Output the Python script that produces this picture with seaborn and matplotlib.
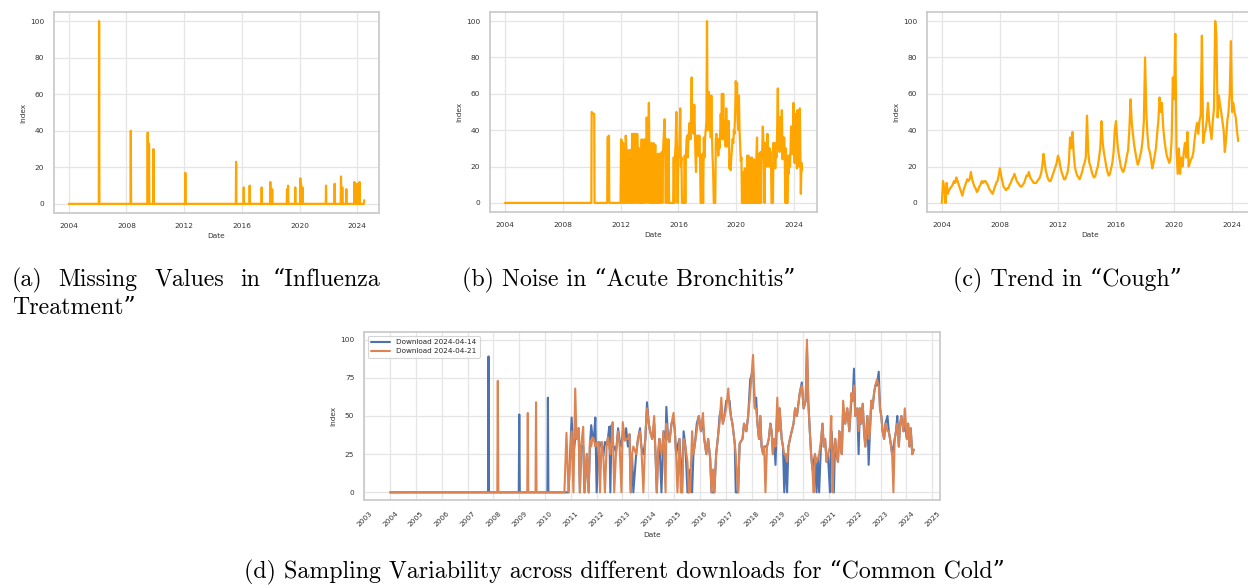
import numpy as np
import pandas as pd
import matplotlib
matplotlib.use("Agg")
import matplotlib.pyplot as plt
import matplotlib.dates as mdates
from matplotlib.ticker import MultipleLocator
import seaborn as sns

# ---------------- data ----------------
# (a) Missing values in "Influenza Treatment": zero baseline with isolated weekly spikes
flu_start = 2004.0
flu_spike_years = [2006.10, 2008.30, 2009.47, 2009.56, 2009.87, 2012.08, 2015.60, 2016.13,
                   2016.54, 2017.37, 2017.97, 2018.10, 2019.13, 2019.20, 2019.70, 2020.05,
                   2020.10, 2020.20, 2021.83, 2022.43, 2022.87, 2022.96, 2023.24, 2023.80,
                   2024.00, 2024.07, 2024.16]
flu_spike_values = [100, 40, 39, 33, 30, 17, 23, 9,
                    10, 9, 12, 8, 8, 10, 9, 14,
                    11, 9, 10, 11, 15, 9, 8, 12,
                    11, 9, 12]
flu_end_year = 2024.48
flu_end_value = 2

# (b) Noise in "Acute Bronchitis"
bron_early_years = [2004.00, 2009.98, 2010.00, 2010.10, 2010.18, 2010.20,
                    2011.08, 2011.10, 2011.20, 2011.22]
bron_early_values = [0, 0, 50, 49, 49, 0, 0, 36, 37, 0]
bron_years = [
    2012.00, 2012.04, 2012.09, 2012.13, 2012.18, 2012.22, 2012.27, 2012.31, 2012.36, 2012.40, 2012.44, 2012.49,
    2012.53, 2012.58, 2012.62, 2012.66, 2012.71, 2012.75, 2012.80, 2012.84, 2012.88, 2012.93, 2012.97,
    2013.02, 2013.06, 2013.10, 2013.15, 2013.19, 2013.23, 2013.28, 2013.32, 2013.37, 2013.41, 2013.46, 2013.50,
    2013.55, 2013.59, 2013.64, 2013.68, 2013.72, 2013.77, 2013.81, 2013.85, 2013.89, 2013.96,
    2014.00, 2014.04, 2014.09, 2014.13, 2014.18, 2014.22, 2014.27, 2014.31, 2014.36, 2014.40, 2014.45, 2014.50,
    2014.54, 2014.59, 2014.63, 2014.68, 2014.72, 2014.76, 2014.81, 2014.85, 2014.89, 2014.94,
    2015.00, 2015.05, 2015.09, 2015.13, 2015.18, 2015.22, 2015.27, 2015.31, 2015.36, 2015.45, 2015.64, 2015.68,
    2015.72, 2015.76, 2015.81, 2015.86, 2015.90, 2015.95,
    2016.00, 2016.04, 2016.08, 2016.13, 2016.17, 2016.21, 2016.25, 2016.40, 2016.44, 2016.48, 2016.52, 2016.57,
    2016.61, 2016.65, 2016.70, 2016.74, 2016.78, 2016.83, 2016.87, 2016.92, 2016.96,
    2017.01, 2017.05, 2017.10, 2017.14, 2017.18, 2017.22, 2017.27, 2017.31, 2017.36, 2017.40, 2017.45, 2017.49,
    2017.54, 2017.62, 2017.67, 2017.71, 2017.76, 2017.80, 2017.85, 2017.89, 2017.94, 2017.98,
    2018.02, 2018.06, 2018.11, 2018.15, 2018.19, 2018.24, 2018.28, 2018.32, 2018.36, 2018.40, 2018.45, 2018.55,
    2018.59, 2018.63, 2018.67, 2018.72, 2018.76, 2018.80, 2018.84, 2018.89, 2018.93, 2018.97,
    2019.01, 2019.05, 2019.10, 2019.14, 2019.18, 2019.23, 2019.27, 2019.31, 2019.36, 2019.40, 2019.44, 2019.49,
    2019.53, 2019.58, 2019.62, 2019.66, 2019.71, 2019.75, 2019.80, 2019.84, 2019.88, 2019.93, 2019.97,
    2020.01, 2020.06, 2020.10, 2020.15, 2020.19, 2020.23, 2020.28, 2020.32, 2020.36, 2020.40, 2020.44, 2020.48,
    2020.52, 2020.56, 2020.60, 2020.64, 2020.68, 2020.72, 2020.76, 2020.80, 2020.84, 2020.88, 2020.92, 2020.96,
    2021.00, 2021.04, 2021.08, 2021.12, 2021.16, 2021.20, 2021.24, 2021.28, 2021.32, 2021.36, 2021.40, 2021.44,
    2021.48, 2021.52, 2021.56, 2021.60, 2021.64, 2021.68, 2021.72, 2021.76, 2021.80, 2021.84, 2021.88, 2021.92, 2021.96,
    2022.00, 2022.04, 2022.08, 2022.12, 2022.16, 2022.20, 2022.24, 2022.28, 2022.32, 2022.36, 2022.40, 2022.44,
    2022.54, 2022.58, 2022.62, 2022.66, 2022.70, 2022.74, 2022.78, 2022.82, 2022.88, 2022.92, 2022.96,
    2023.00, 2023.04, 2023.08, 2023.12, 2023.16, 2023.20, 2023.24, 2023.28, 2023.32, 2023.36, 2023.40, 2023.44,
    2023.48, 2023.56, 2023.60, 2023.64, 2023.68, 2023.72, 2023.76, 2023.80, 2023.84, 2023.88, 2023.92, 2023.96,
    2024.00, 2024.04, 2024.08, 2024.12, 2024.16, 2024.20, 2024.24, 2024.28, 2024.32, 2024.36, 2024.40, 2024.44,
    2024.47, 2024.52, 2024.56]
bron_values = [
    0, 35, 34, 0, 33, 0, 29, 0, 37, 30, 0, 29,
    0, 25, 29, 0, 29, 0, 38, 28, 0, 38, 0,
    38, 30, 0, 38, 25, 0, 30, 0, 25, 0, 35, 0,
    32, 0, 35, 32, 0, 30, 47, 33, 0, 55,
    20, 0, 33, 0, 25, 0, 33, 0, 0, 32, 0, 20,
    0, 27, 0, 27, 26, 0, 26, 28, 0, 28,
    39, 46, 30, 0, 35, 30, 0, 35, 0, 0, 0, 25,
    0, 25, 32, 50, 30, 0,
    30, 25, 35, 52, 20, 25, 0, 0, 26, 0, 26, 35,
    37, 25, 37, 40, 44, 35, 44, 69, 40,
    44, 38, 54, 40, 26, 17, 37, 30, 37, 26, 37, 26,
    0, 0, 27, 0, 36, 25, 36, 40, 45, 100,
    40, 50, 61, 40, 59, 36, 59, 38, 26, 19, 0, 0,
    35, 38, 30, 35, 26, 35, 30, 38, 49, 40,
    60, 35, 60, 45, 35, 45, 31, 52, 31, 45, 35, 45,
    19, 25, 18, 25, 30, 35, 33, 40, 38, 50, 67,
    60, 66, 45, 40, 59, 40, 30, 23, 25, 0, 16, 0,
    17, 0, 19, 0, 18, 0, 26, 0, 26, 0, 25, 0,
    24, 0, 25, 0, 18, 0, 24, 0, 18, 0, 27, 36,
    0, 27, 0, 24, 0, 28, 0, 24, 30, 42, 33, 25, 0,
    33, 25, 33, 20, 38, 24, 30, 20, 30, 24, 28, 0,
    0, 33, 25, 33, 19, 30, 25, 35, 63, 30, 47,
    28, 47, 30, 38, 51, 24, 36, 30, 36, 24, 0, 30,
    0, 0, 26, 16, 26, 20, 30, 42, 27, 42, 27, 55,
    30, 22, 49, 22, 45, 19, 51, 22, 37, 20, 52, 25,
    5, 22, 18]

# (c) Trend in "Cough": monthly values from Jan 2004
cough_first_month = "2004-01-01"
cough_values = [
    0, 12, 8, 0, 11, 5, 7, 8, 9, 10, 12, 11,        # 2004
    14, 12, 10, 8, 6, 4, 7, 9, 11, 13, 12, 13,      # 2005
    17, 13, 11, 9, 8, 6, 7, 9, 10, 12, 11, 12,      # 2006
    12, 11, 10, 8, 7, 6, 5, 7, 9, 11, 12, 15,       # 2007
    19, 15, 12, 9, 8, 7, 8, 8, 10, 11, 13, 14,      # 2008
    16, 14, 12, 11, 10, 9, 9, 10, 11, 13, 15, 15,   # 2009
    17, 14, 13, 12, 11, 11, 11, 12, 13, 14, 16, 20, # 2010
    27, 22, 18, 15, 13, 12, 12, 14, 16, 18, 20, 22, # 2011
    26, 24, 20, 17, 15, 13, 13, 15, 17, 22, 36, 30, # 2012
    39, 27, 20, 17, 15, 14, 13, 15, 17, 20, 22, 25, # 2013
    48, 28, 22, 20, 17, 15, 14, 15, 18, 20, 25, 30, # 2014
    45, 33, 28, 24, 20, 17, 15, 16, 19, 22, 28, 40, # 2015
    45, 34, 28, 24, 20, 18, 17, 19, 22, 26, 29, 40, # 2016
    57, 44, 38, 32, 28, 24, 21, 23, 26, 29, 35, 45, # 2017
    80, 50, 38, 30, 28, 24, 19, 22, 26, 30, 38, 45, # 2018
    58, 50, 55, 42, 35, 30, 26, 24, 22, 24, 35, 69, # 2019
    57, 93, 30, 16, 30, 16, 25, 20, 28, 33, 25, 39, # 2020
    20, 22, 24, 25, 28, 35, 40, 44, 38, 45, 48, 92, # 2021
    33, 38, 40, 45, 55, 45, 40, 35, 45, 52, 100, 92,# 2022
    47, 59, 54, 50, 45, 40, 28, 35, 45, 50, 60, 89, # 2023
    50, 55, 50, 47, 40, 34]                         # 2024

# (d) Sampling variability for "Common Cold"
cold_start = 2004.0
blue_spike_years = [2007.81, 2009.00, 2010.11]
blue_spike_values = [89, 51, 62]
orange_spike_years = [2008.17, 2009.33, 2009.65]
orange_spike_values = [73, 52, 59]
cold_years = [
    2010.75, 2010.83, 2010.91, 2011.03, 2011.10, 2011.17, 2011.22, 2011.30, 2011.35, 2011.40, 2011.48, 2011.53, 2011.62, 2011.69, 2011.74, 2011.79, 2011.84, 2011.89, 2011.95,
    2012.00, 2012.08, 2012.13, 2012.19, 2012.26, 2012.32, 2012.39, 2012.44, 2012.49, 2012.53, 2012.58, 2012.62, 2012.68, 2012.75, 2012.83, 2012.89, 2012.96,
    2013.01, 2013.09, 2013.14, 2013.21, 2013.27, 2013.32, 2013.37, 2013.42, 2013.53, 2013.60, 2013.68, 2013.73, 2013.81, 2013.89, 2013.95,
    2014.02, 2014.07, 2014.15, 2014.23, 2014.28, 2014.33, 2014.38, 2014.43, 2014.51, 2014.59, 2014.67, 2014.70, 2014.77, 2014.82, 2014.90, 2014.98,
    2015.03, 2015.08, 2015.13, 2015.21, 2015.26, 2015.31, 2015.37, 2015.44, 2015.52, 2015.57, 2015.62, 2015.70, 2015.75, 2015.81, 2015.88, 2015.96,
    2016.04, 2016.12, 2016.17, 2016.25, 2016.32, 2016.40, 2016.45, 2016.51, 2016.56, 2016.63, 2016.71, 2016.76, 2016.83, 2016.89, 2016.95,
    2017.02, 2017.10, 2017.15, 2017.20, 2017.26, 2017.35, 2017.39, 2017.48, 2017.54, 2017.65, 2017.71, 2017.80, 2017.87, 2017.95,
    2018.06, 2018.13, 2018.18, 2018.23, 2018.29, 2018.34, 2018.39, 2018.45, 2018.49, 2018.54, 2018.60, 2018.67, 2018.73, 2018.78, 2018.83, 2018.88, 2018.93,
    2019.00, 2019.04, 2019.09, 2019.17, 2019.22, 2019.27, 2019.32, 2019.38, 2019.43, 2019.49, 2019.56, 2019.63, 2019.69, 2019.76, 2019.87, 2019.95,
    2020.02, 2020.10, 2020.15, 2020.20, 2020.26, 2020.31, 2020.36, 2020.41, 2020.46, 2020.52, 2020.57, 2020.62, 2020.70, 2020.75, 2020.80, 2020.85, 2020.91, 2020.96,
    2021.04, 2021.09, 2021.14, 2021.19, 2021.24, 2021.29, 2021.35, 2021.40, 2021.45, 2021.50, 2021.55, 2021.63, 2021.71, 2021.79, 2021.87, 2021.92, 2021.97,
    2022.02, 2022.10, 2022.15, 2022.20, 2022.25, 2022.31, 2022.36, 2022.41, 2022.49, 2022.54, 2022.59, 2022.64, 2022.69, 2022.75, 2022.80, 2022.86, 2022.93, 2022.98,
    2023.03, 2023.08, 2023.14, 2023.19, 2023.27, 2023.32, 2023.37, 2023.45, 2023.50, 2023.55, 2023.60, 2023.65, 2023.71, 2023.76, 2023.81, 2023.89, 2023.94,
    2024.02, 2024.07, 2024.12, 2024.17, 2024.23, 2024.29]
cold_blue = [
    0, 0, 0, 49, 25, 35, 35, 42, 0, 31, 30, 0, 25, 0, 31, 44, 36, 35, 49,
    0, 33, 30, 33, 24, 33, 31, 36, 43, 0, 44, 30, 30, 26, 42, 34, 30,
    40, 34, 42, 30, 38, 0, 25, 0, 25, 35, 42, 30, 25, 35, 59,
    45, 40, 35, 45, 25, 0, 25, 35, 0, 40, 35, 56, 35, 33, 45, 48,
    40, 25, 30, 35, 20, 0, 40, 30, 0, 0, 15, 0, 25, 32, 45, 50,
    40, 45, 35, 25, 35, 22, 0, 0, 0, 25, 38, 50, 55, 45, 50,
    60, 60, 60, 50, 45, 32, 0, 0, 32, 35, 45, 40, 50, 74,
    80, 55, 62, 45, 35, 50, 30, 25, 30, 30, 30, 35, 45, 40, 25, 35, 18,
    55, 40, 55, 35, 30, 0, 25, 0, 30, 35, 40, 45, 55, 50, 65, 72,
    55, 60, 95, 60, 40, 25, 15, 20, 25, 0, 22, 0, 35, 45, 30, 35, 20, 25,
    0, 40, 30, 0, 35, 25, 20, 40, 30, 25, 55, 45, 55, 40, 60, 60, 81,
    50, 55, 25, 55, 45, 58, 40, 30, 50, 18, 40, 60, 55, 65, 70, 70, 79, 55,
    50, 40, 35, 45, 50, 40, 35, 25, 30, 35, 40, 50, 30, 45, 50, 40, 45,
    35, 45, 30, 42, 25, 28]
cold_orange = [
    0, 39, 0, 40, 0, 68, 35, 42, 0, 31, 43, 0, 25, 0, 34, 30, 36, 35, 30,
    32, 33, 0, 33, 24, 0, 31, 36, 30, 25, 35, 46, 0, 26, 40, 30, 0,
    46, 34, 35, 35, 38, 0, 25, 30, 25, 35, 40, 30, 0, 39, 55,
    45, 40, 35, 50, 25, 0, 25, 35, 25, 40, 0, 45, 35, 33, 45, 52,
    40, 25, 0, 35, 0, 0, 35, 30, 20, 0, 0, 40, 25, 32, 40, 50,
    40, 52, 35, 25, 35, 22, 0, 15, 0, 25, 38, 45, 62, 45, 50,
    55, 68, 55, 50, 45, 32, 25, 0, 32, 35, 45, 40, 50, 65,
    90, 55, 55, 45, 35, 50, 30, 25, 30, 0, 30, 35, 45, 40, 25, 35, 30,
    62, 40, 55, 35, 30, 25, 25, 20, 30, 35, 40, 45, 55, 50, 65, 70,
    55, 60, 100, 60, 40, 25, 15, 0, 25, 20, 22, 25, 35, 45, 30, 35, 20, 25,
    30, 50, 0, 25, 35, 25, 20, 40, 30, 25, 60, 45, 55, 40, 65, 60, 70,
    50, 55, 40, 55, 45, 58, 40, 30, 50, 35, 40, 60, 55, 65, 70, 74, 70, 55,
    50, 40, 35, 45, 40, 40, 35, 25, 0, 35, 40, 45, 30, 45, 50, 40, 55,
    35, 45, 30, 42, 25, 28]

captions = {
    "b": "(b) Noise in \u201cAcute Bronchitis\u201d",
    "c": "(c) Trend in \u201cCough\u201d",
    "d": "(d) Sampling Variability across different downloads for \u201cCommon Cold\u201d",
}
caption_a_words = ["(a)", "Missing", "Values", "in", "\u201cInfluenza"]
caption_a_line2 = "Treatment\u201d"
legend_labels = ["Download 2024-04-14", "Download 2024-04-21"]

# ---------------- helpers ----------------
def to_dates(years):
    out = []
    for y in years:
        yr = int(np.floor(y))
        s = pd.Timestamp(year=yr, month=1, day=1)
        e = pd.Timestamp(year=yr + 1, month=1, day=1)
        out.append(s + (e - s) * float(y - yr))
    return pd.to_datetime(out)


def spike_points(start, years, values, width=0.02):
    xs, ys = [start], [0]
    for y, v in zip(years, values):
        xs += [y - width, y, y + width]
        ys += [0, v, 0]
    return xs, ys


# ---------------- style ----------------
sns.set_theme(style="whitegrid")
plt.rcParams.update({
    "axes.edgecolor": "#cccccc",
    "axes.linewidth": 1.3,
    "grid.color": "#e5e5e5",
    "grid.linewidth": 0.9,
    "xtick.color": "#333333",
    "ytick.color": "#333333",
    "axes.labelcolor": "#333333",
})

W, H = 1248, 585
fig = plt.figure(figsize=(W / 100, H / 100), dpi=100)


def px_axes(x0, y0, x1, y1):
    return fig.add_axes([x0 / W, 1 - y1 / H, (x1 - x0) / W, (y1 - y0) / H])


ORANGE = "#FFA500"
TICK_FS = 5.3
LAB_FS = 5.3


def style_axis(ax, year_step, ystep, rot=0):
    ax.xaxis.set_major_locator(mdates.YearLocator(year_step))
    ax.xaxis.set_major_formatter(mdates.DateFormatter("%Y"))
    ax.yaxis.set_major_locator(MultipleLocator(ystep))
    ax.tick_params(axis="x", labelsize=TICK_FS, pad=7.5, length=0, labelrotation=rot)
    ax.tick_params(axis="y", labelsize=TICK_FS, pad=7, length=0)
    ax.set_xlabel("Date", fontsize=LAB_FS, labelpad=2.5)
    ax.set_ylabel("Index", fontsize=LAB_FS, labelpad=3)


# (a)
ax_a = px_axes(54, 12, 379, 213)
xs, ys = spike_points(flu_start, flu_spike_years, flu_spike_values)
xs += [flu_end_year - 0.02, flu_end_year]
ys += [0, flu_end_value]
sns.lineplot(x=to_dates(xs), y=ys, ax=ax_a, color=ORANGE, linewidth=1.6,
             estimator=None, sort=False)
style_axis(ax_a, 4, 20)

# (b)
ax_b = px_axes(490, 12, 817, 212)
xs = bron_early_years + bron_years
ys = bron_early_values + bron_values
sns.lineplot(x=to_dates(xs), y=ys, ax=ax_b, color=ORANGE, linewidth=1.6,
             estimator=None, sort=False)
style_axis(ax_b, 4, 20)

# (c)
ax_c = px_axes(927, 12, 1253, 212)
c_dates = pd.date_range(cough_first_month, periods=len(cough_values), freq="MS")
sns.lineplot(x=c_dates, y=cough_values, ax=ax_c, color=ORANGE, linewidth=1.6,
             estimator=None, sort=False)
style_axis(ax_c, 4, 20)

# (d)
ax_d = px_axes(364, 332, 940, 500)
pal = sns.color_palette("deep")
bx, by = spike_points(cold_start, blue_spike_years, blue_spike_values)
ox, oy = spike_points(cold_start, orange_spike_years, orange_spike_values)
sns.lineplot(x=to_dates(bx + cold_years), y=by + cold_blue, ax=ax_d, color=pal[0],
             linewidth=1.5, estimator=None, sort=False, label=legend_labels[0])
sns.lineplot(x=to_dates(ox + cold_years), y=oy + cold_orange, ax=ax_d, color=pal[1],
             linewidth=1.5, estimator=None, sort=False, label=legend_labels[1])
style_axis(ax_d, 1, 25, rot=45)
leg = ax_d.legend(loc="upper left", fontsize=5.2, frameon=True, handlelength=2.6,
                  borderpad=0.5, labelspacing=0.4)
leg.get_frame().set_edgecolor("#cccccc")
leg.get_frame().set_linewidth(0.8)

# ---------------- captions ----------------
CAP_FONT = ["cmr10", "DejaVu Serif"]
CAP_FS = 17.2


def ptext(x, y, s, ha="left"):
    fig.text(x / W, 1 - y / H, s, ha=ha, va="baseline", fontsize=CAP_FS,
             family=CAP_FONT, color="black")


for word, x in zip(caption_a_words, [12, 58, 155, 240, 273]):
    ptext(x, 286, word)
ptext(12, 314, caption_a_line2)
ptext(629, 286, captions["b"], ha="center")
ptext(1067, 286, captions["c"], ha="center")
ptext(624, 578, captions["d"], ha="center")

fig.savefig("out.png", dpi=100)
